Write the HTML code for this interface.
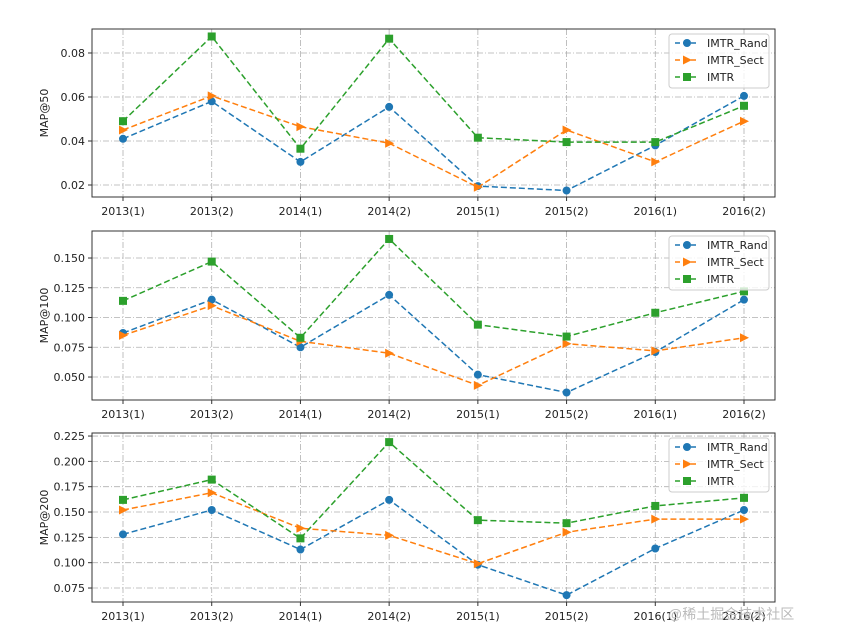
<!DOCTYPE html>
<html><head><meta charset="utf-8"><style>
body{margin:0;background:#fff;width:844px;height:631px;overflow:hidden;font-family:"Liberation Sans","DejaVu Sans",sans-serif}
svg text{font-family:"DejaVu Sans","Liberation Sans",sans-serif;font-size:11px;fill:#222}
</style></head><body>
<svg id="chart" width="844" height="631"></svg>
<div style="position:absolute;left:668px;top:604px;font:14px 'Liberation Sans','Noto Sans CJK SC',sans-serif;color:#bbb">@稀土掘金技术社区</div>
<script>
const categories=["2013(1)","2013(2)","2014(1)","2014(2)","2015(1)","2015(2)","2016(1)","2016(2)"];
const seriesNames=["IMTR_Rand","IMTR_Sect","IMTR"];
const p1Rand=[0.041,0.058,0.0305,0.0555,0.0195,0.0175,0.038,0.0605];
const p1Sect=[0.045,0.0605,0.0465,0.039,0.019,0.045,0.0305,0.049];
const p1Imtr=[0.049,0.0875,0.0365,0.0865,0.0415,0.0395,0.0395,0.056];
const p2Rand=[0.087,0.115,0.075,0.119,0.052,0.037,0.071,0.115];
const p2Sect=[0.085,0.110,0.080,0.070,0.043,0.078,0.072,0.083];
const p2Imtr=[0.114,0.147,0.083,0.166,0.094,0.084,0.104,0.122];
const p3Rand=[0.128,0.152,0.113,0.162,0.098,0.068,0.114,0.152];
const p3Sect=[0.152,0.169,0.134,0.127,0.099,0.130,0.143,0.143];
const p3Imtr=[0.162,0.182,0.124,0.219,0.142,0.139,0.156,0.164];
const p1Ticks=[0.02,0.04,0.06,0.08];
const p2Ticks=[0.050,0.075,0.100,0.125,0.150];
const p3Ticks=[0.075,0.100,0.125,0.150,0.175,0.200,0.225];

const NS="http://www.w3.org/2000/svg";
const svg=document.getElementById('chart');
const colors=["#1f77b4","#ff7f0e","#2ca02c"];
function mk(tag,attrs,parent){const e=document.createElementNS(NS,tag);for(const k in attrs)e.setAttribute(k,attrs[k]);(parent||svg).appendChild(e);return e;}
const X0=92,X1=775,XS=123,XE=744;
function xs(i){return XS+i*(XE-XS)/(categories.length-1);}

function panel(idx,top,bottom,ymin,ymax,ticks,dec,label,data){
  const g=mk('g',{});
  
  
  const ys=v=>bottom-(v-ymin)/(ymax-ymin)*(bottom-top);
  categories.forEach((c,i)=>{
    const l=mk('line',{x1:xs(i),x2:xs(i),y1:top,y2:bottom,stroke:'#b0b0b0','stroke-width':0.8,'stroke-dasharray':'6,2,1,2'},g);
    
    mk('line',{x1:xs(i),x2:xs(i),y1:bottom,y2:bottom+4,stroke:'#333'},g);
    const t=mk('text',{x:xs(i),y:bottom+18,'text-anchor':'middle'},g);t.textContent=c;
    
  });
  ticks.forEach(v=>{
    const y=ys(v);
    const l=mk('line',{x1:X0,x2:X1,y1:y,y2:y,stroke:'#b0b0b0','stroke-width':0.8,'stroke-dasharray':'6,2,1,2'},g);
    
    mk('line',{x1:X0-4,x2:X0,y1:y,y2:y,stroke:'#333'},g);
    const t=mk('text',{x:X0-7,y:y+4,'text-anchor':'end'},g);t.textContent=v.toFixed(dec);
    
  });
  const r=mk('rect',{x:X0,y:top,width:X1-X0,height:bottom-top,fill:'none',stroke:'#333','stroke-width':1},g);
  
  const yl=mk('text',{transform:`translate(48,${(top+bottom)/2}) rotate(-90)`,'text-anchor':'middle'},g);
  yl.textContent=label;
  data.forEach((arr,s)=>{
    const pts=arr.map((v,i)=>xs(i)+','+ys(v)).join(' ');
    const pl=mk('polyline',{points:pts,fill:'none',stroke:colors[s],'stroke-width':1.5,'stroke-dasharray':'6,3'},g);
    
    arr.forEach((v,i)=>marker(g,s,xs(i),ys(v)));
  });
  // legend
  const lx=669,ly=top+5;
  const lg=mk('g',{},g);
  mk('rect',{x:lx,y:ly,width:100,height:54,rx:3,fill:'#fff','fill-opacity':0.8,stroke:'#ccc'},lg);
  seriesNames.forEach((n,s)=>{
    const yy=ly+9+s*17;
    const e=mk('g',{},lg);
    mk('line',{x1:lx+6,x2:lx+30,y1:yy,y2:yy,stroke:colors[s],'stroke-width':1.5,'stroke-dasharray':'5,3'},e);
    marker(e,s,lx+18,yy);
    const t=mk('text',{x:lx+38,y:yy+4},e);t.textContent=n;
  });
}
function marker(g,s,x,y){
  let m;
  if(s===0)m=mk('circle',{cx:x,cy:y,r:4,fill:colors[0]},g);
  else if(s===1)m=mk('polygon',{points:`${x-4},${y-4.5} ${x+5},${y} ${x-4},${y+4.5}`,fill:colors[1]},g);
  else m=mk('rect',{x:x-4,y:y-4,width:8,height:8,fill:colors[2]},g);
  
}
panel(0,29,197,0.01455,0.0909,p1Ticks,2,'MAP@50',[p1Rand,p1Sect,p1Imtr]);
panel(1,231,400,0.0307,0.1727,p2Ticks,3,'MAP@100',[p2Rand,p2Sect,p2Imtr]);
panel(2,433,602,0.0612,0.228,p3Ticks,3,'MAP@200',[p3Rand,p3Sect,p3Imtr]);
</script>
</body></html>
